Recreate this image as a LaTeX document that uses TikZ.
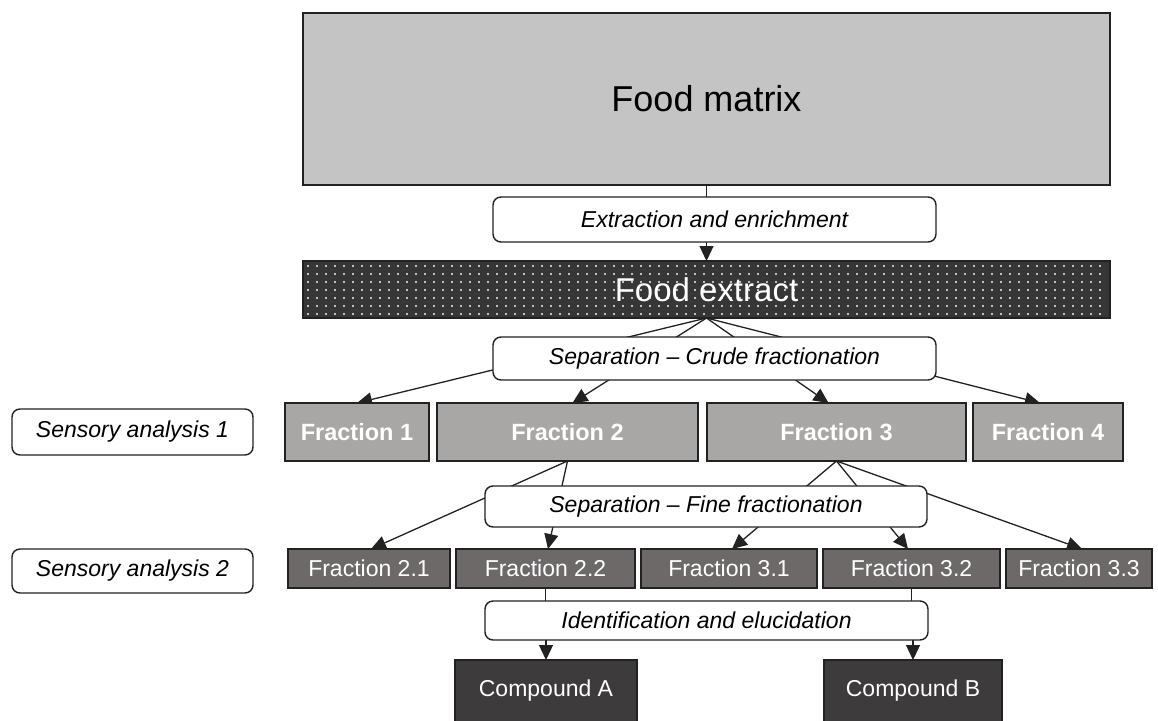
\documentclass[tikz,border=0pt]{standalone}
\usepackage{fontspec}
\setmainfont{Liberation Sans}
\usetikzlibrary{arrows.meta,calc}
\pgfdeclarelayer{bg}
\pgfsetlayers{bg,main}
\definecolor{matrixgray}{HTML}{C4C4C4}
\definecolor{extractgray}{HTML}{363636}
\definecolor{fracA}{HTML}{A9A6A6}
\definecolor{fracB}{HTML}{6D6969}
\definecolor{compgray}{HTML}{3D3B3B}
\definecolor{edge}{HTML}{222222}
\tikzset{
  box/.style={draw=edge, line width=1.4pt, inner sep=0pt, outer sep=0pt, anchor=center, align=center},
  stepbox/.style={box, fill=white, rounded corners=8pt, font=\fontsize{23}{27}\selectfont\itshape},
  fracone/.style={box, fill=fracA, text=white, font=\fontsize{23.5}{27}\selectfont\bfseries, minimum height=58pt},
  fractwo/.style={box, fill=fracB, text=white, font=\fontsize{23}{27}\selectfont, minimum height=39pt},
  compbox/.style={box, fill=compgray, text=white, font=\fontsize{23}{27}\selectfont, minimum height=62pt},
  conn/.style={draw=edge, line width=1.3pt},
  arr/.style={conn, -{Triangle[length=15pt,width=14pt]}},
}
\begin{document}
\begin{tikzpicture}[x=1pt,y=-1pt]
\useasboundingbox (0,0) rectangle (1158,720);
\clip (0,0) rectangle (1158,720);
% top blocks
\node[box, fill=matrixgray, minimum width=807pt, minimum height=172pt, font=\fontsize{36}{40}\selectfont] (fm) at (706.5,99) {Food matrix};
\node[stepbox, minimum width=443pt, minimum height=45pt] (ext) at (714.5,219.5) {Extraction and enrichment};
\node[box, fill=extractgray, minimum width=807pt, minimum height=57pt] (fe) at (706.5,289.5) {};
\foreach \xx in {308,317,...,1106} {
  \foreach \yy in {266,274,...,314} {
    \fill[white!90!gray] (\xx,\yy) circle (1.1pt);
  }
}
\node[text=white, font=\fontsize{33}{38}\selectfont, inner sep=0pt] (fetext) at (fe.center) {Food extract};
\node[stepbox, minimum width=443pt, minimum height=43pt] (crude) at (714.5,358.5) {Separation -- Crude fractionation};
% fractions row 1
\node[stepbox, minimum width=241pt, minimum height=46pt] (sa1) at (132.5,432) {Sensory analysis 1};
\node[fracone, minimum width=144pt] (f1) at (357,432) {Fraction 1};
\node[fracone, minimum width=261pt] (f2) at (567.5,432) {Fraction 2};
\node[fracone, minimum width=259pt] (f3) at (836.5,432) {Fraction 3};
\node[fracone, minimum width=150pt] (f4) at (1048,432) {Fraction 4};
\node[stepbox, minimum width=442pt, minimum height=41pt] (fine) at (706,506.5) {Separation -- Fine fractionation};
% fractions row 2
\node[stepbox, minimum width=241pt, minimum height=44pt] (sa2) at (132.5,571) {Sensory analysis 2};
\node[fractwo, minimum width=162pt] (f21) at (369,568.5) {Fraction 2.1};
\node[fractwo, minimum width=179pt] (f22) at (545.5,568.5) {Fraction 2.2};
\node[fractwo, minimum width=176pt] (f31) at (729,568.5) {Fraction 3.1};
\node[fractwo, minimum width=177pt] (f32) at (911.5,568.5) {Fraction 3.2};
\node[fractwo, minimum width=146pt] (f33) at (1079,568.5) {Fraction 3.3};
\node[stepbox, minimum width=443pt, minimum height=39pt] (ident) at (706.5,620.5) {Identification and elucidation};
\node[compbox, minimum width=182pt] (ca) at (546,691) {Compound A};
\node[compbox, minimum width=178pt] (cb) at (913,691) {Compound B};
% connectors
\begin{pgfonlayer}{bg}
\draw[conn] (fm.south) -- (ext.north -| fm.south);
\draw[arr] (ext.south -| fe.north) -- (fe.north);
\draw[arr] (fe.south) -- (f1.north);
\draw[arr] (fe.south) -- ($(f2.north)+(5,0)$);
\draw[arr] (fe.south) -- ($(f3.north)+(-8,0)$);
\draw[arr] (fe.south) -- ($(f4.north)+(-8,0)$);
\draw[arr] (f2.south) -- ($(f21.north)+(2,0)$);
\draw[arr] (f2.south) -- ($(f22.north)+(2.5,0)$);
\draw[arr] (f3.south) -- ($(f31.north)+(3,0)$);
\draw[arr] (f3.south) -- ($(f32.north)+(-3.5,0)$);
\draw[arr] (f3.south) -- ($(f33.north)+(3,0)$);
\draw[conn] (f22.south) -- (ident.north -| f22.south);
\draw[arr] (ident.south -| ca.north) -- (ca.north);
\draw[conn] (f32.south) -- (ident.north -| f32.south);
\draw[arr] (ident.south -| cb.north) -- (cb.north);
\end{pgfonlayer}
\end{tikzpicture}
\end{document}
